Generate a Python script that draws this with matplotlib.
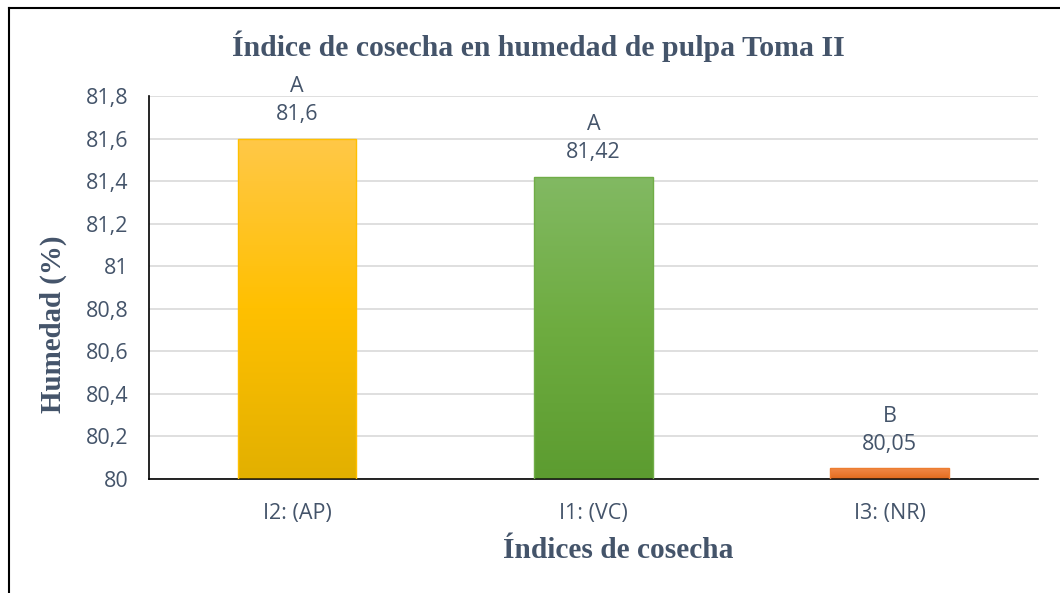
import matplotlib
matplotlib.use("Agg")
import matplotlib.pyplot as plt
import numpy as np
from matplotlib.colors import LinearSegmentedColormap

categories = ["I2: (AP)", "I1: (VC)", "I3: (NR)"]
values = [81.6, 81.42, 80.05]
letters = ["A", "A", "B"]
value_labels = ["81,6", "81,42", "80,05"]
yticks = [80, 80.2, 80.4, 80.6, 80.8, 81, 81.2, 81.4, 81.6, 81.8]
ytick_labels = ["80", "80,2", "80,4", "80,6", "80,8", "81", "81,2", "81,4", "81,6", "81,8"]
grad_colors = [("#FFC848", "#FFC000", "#E2B000"), ("#82B963", "#6EAC40", "#5C9C30"), ("#F08A48", "#EC7A32", "#E06A1E")]
edge_colors = ["#FFC000", "#70AD47", "#ED7D31"]

text_color = "#44546A"
sans = ["Open Sans", "DejaVu Sans"]
serif = ["Liberation Serif", "DejaVu Serif"]

fig = plt.figure(figsize=(10.6, 5.93), dpi=100)
ax = fig.add_axes([0.1406, 0.1922, 0.979 - 0.1406, 0.838 - 0.1922])

x = np.arange(len(categories))
bars = ax.bar(x, [v - 80 for v in values], bottom=80, width=0.40, color="none",
              edgecolor=edge_colors, linewidth=1.0, zorder=3)

for b, (c_top, c_mid, c_bot) in zip(bars, grad_colors):
    cmap = LinearSegmentedColormap.from_list("g", [c_bot, c_mid, c_top])
    grad = np.linspace(0, 1, 256).reshape(-1, 1)
    x0, y0 = b.get_x(), b.get_y()
    w, h = b.get_width(), b.get_height()
    im = ax.imshow(grad, cmap=cmap, aspect="auto", origin="lower",
                   extent=[x0, x0 + w, y0, y0 + h], zorder=2)
    im.set_clip_path(b)

for xi, v, let, lab in zip(x, values, letters, value_labels):
    ax.annotate(lab, (xi, v), xytext=(0, 17.5), textcoords="offset points",
                ha="center", va="center", fontsize=15.5, color=text_color, family=sans)
    ax.annotate(let, (xi, v), xytext=(0, 37.5), textcoords="offset points",
                ha="center", va="center", fontsize=15.5, color=text_color, family=sans)

ax.set_xlim(-0.5, 2.5)
ax.set_ylim(80, 81.8)
ax.set_yticks(yticks)
ax.set_yticklabels(ytick_labels, fontsize=15.5, color=text_color, family=sans)
ax.set_xticks(x)
ax.set_xticklabels(categories, fontsize=15.5, color=text_color, family=sans)
ax.tick_params(axis="y", length=0, pad=15)
ax.tick_params(axis="x", length=0, pad=17)
ax.grid(axis="y", color="#D9D9D9", linewidth=1.2, zorder=0)
ax.set_axisbelow(True)
for s in ["top", "right"]:
    ax.spines[s].set_visible(False)
ax.spines["left"].set_color("black")
ax.spines["bottom"].set_color("black")
ax.spines["left"].set_linewidth(1.2)
ax.spines["bottom"].set_linewidth(1.2)

fig.text(0.508, 0.922, "Índice de cosecha en humedad de pulpa Toma II", ha="center", va="center",
         fontsize=21.4, fontweight="bold", color=text_color, family=serif)
fig.text(0.050, 1 - 324 / 593, "Humedad (%)", rotation=90, ha="center", va="center",
         fontsize=20.8, fontweight="bold", color=text_color, family=serif)
fig.text(0.583, 1 - 551 / 593, "Índices de cosecha", ha="center", va="center",
         fontsize=21.2, fontweight="bold", color=text_color, family=serif)

# outer frame (top and left visible)
fig.add_artist(plt.Line2D([0.0085, 0.0085], [0, 0.9865], transform=fig.transFigure, color="black", linewidth=1.5))
fig.add_artist(plt.Line2D([0.0085, 1.0], [0.9865, 0.9865], transform=fig.transFigure, color="black", linewidth=1.5))

fig.savefig("out.png", dpi=100)
